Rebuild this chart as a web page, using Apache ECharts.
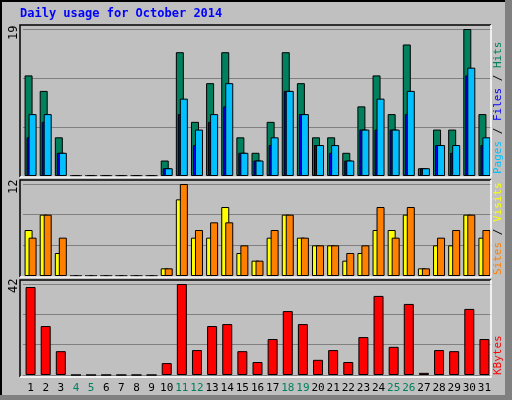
<!DOCTYPE html>
<html><head><meta charset="utf-8">
<script src="https://cdn.jsdelivr.net/npm/echarts@6/dist/echarts.min.js"></script>
<style>html,body{margin:0;padding:0;background:#C0C0C0}#c{width:512px;height:400px}</style>
</head><body><div id="c"></div>
<script>
const days = Array.from({length:31},(_,i)=>String(i+1));
const weekend = ['4','5','11','12','18','19','25','26'];
const hits  = [13,11,5,0,0,0,0,0,0,2,16,7,12,16,5,3,7,16,12,5,5,3,9,13,8,17,1,6,6,19,8];
const pages = [5,7,3,0,0,0,0,0,0,1,8,4,7,9,3,2,4,11,8,4,3,2,6,6,6,8,1,4,3,13,4];
const files = [8,8,3,0,0,0,0,0,0,1,10,6,8,12,3,2,5,11,8,4,4,2,6,10,6,11,1,4,4,14,5];
const sites = [6,8,3,0,0,0,0,0,0,1,10,5,5,9,3,2,5,8,5,4,4,2,3,6,6,8,1,4,4,8,5];
const visits= [5,8,5,0,0,0,0,0,0,1,12,6,7,7,4,2,6,8,5,4,4,3,4,9,5,9,1,5,6,8,6];
const kbytes= [40.6,22.6,11,0,0,0,0,0,0,5.5,42,11.5,22.6,23.5,11,6,16.6,29.5,23.5,7,11.5,6,17.5,36.5,13,32.8,1,11.5,11,30.5,16.6];
const maxTop=19, maxMid=12, maxBot=42;

const mono='DejaVu Sans Mono';
const L=23, R=20;
const grids=[{left:L,right:R,top:29,height:147},{left:L,right:R,top:184,height:92},{left:L,right:R,top:284,height:91}];
function xAx(i,show){return {type:'category',gridIndex:i,data:days,axisTick:{show:false},axisLine:{show:false},
  axisLabel:{show:show,interval:0,margin:8,fontFamily:mono,fontSize:11,color:'#000',
    formatter:v=>weekend.includes(v)?'{w|'+v+'}':v,rich:{w:{color:'#00805C',fontFamily:mono,fontSize:11}}}};}
function yAx(i,m){return {type:'value',gridIndex:i,min:0,max:m,interval:m/3,axisLabel:{show:false},axisLine:{show:false},axisTick:{show:false},
  splitLine:{lineStyle:{color:'#808080',width:1}}};}
const bs={borderColor:'#000',borderWidth:1};
function bar(name,d,i,color,w,gap,z){return {name,type:'bar',xAxisIndex:i,yAxisIndex:i,data:d,barWidth:w,barGap:gap,z:z,
  itemStyle:Object.assign({color},bs),animation:false};}
const panels=[[20,25,471,152],[20,180,471,97],[20,280,471,97]];
const gr=[];
panels.forEach(p=>{
  gr.push({type:'polyline',shape:{points:[[p[0],p[1]+p[3]],[p[0],p[1]],[p[0]+p[2],p[1]]]},style:{stroke:'#000',lineWidth:1.5,fill:null},z:10});
  gr.push({type:'polyline',shape:{points:[[p[0]+p[2],p[1]],[p[0]+p[2],p[1]+p[3]],[p[0],p[1]+p[3]]]},style:{stroke:'#fff',lineWidth:1.5,fill:null},z:10});
});
gr.push({type:'rect',shape:{x:1,y:1,width:505,height:397},style:{fill:null,stroke:'#000',lineWidth:2},z:0});
gr.push({type:'rect',shape:{x:505,y:0,width:7,height:400},style:{fill:'#808080'},z:0});
gr.push({type:'rect',shape:{x:0,y:395,width:512,height:5},style:{fill:'#808080'},z:0});
gr.push({type:'text',left:20,top:8,style:{text:'Daily usage for October 2014',fontFamily:mono,fontWeight:'bold',fontSize:12,fill:'#0000FF'}});
gr.push({type:'text',x:8,y:40,rotation:Math.PI/2,style:{text:String(maxTop),fontFamily:mono,fontSize:12,fill:'#000'}});
gr.push({type:'text',x:8,y:194,rotation:Math.PI/2,style:{text:String(maxMid),fontFamily:mono,fontSize:12,fill:'#000'}});
gr.push({type:'text',x:8,y:293,rotation:Math.PI/2,style:{text:String(maxBot),fontFamily:mono,fontSize:12,fill:'#000'}});
const rs=c=>({fill:c,fontFamily:mono,fontSize:11});
gr.push({type:'text',x:493,y:174,rotation:Math.PI/2,style:{text:'{p|Pages}{b| / }{f|Files}{b| / }{h|Hits}',rich:{p:rs('#00C0FF'),b:rs('#000'),f:rs('#0000FF'),h:rs('#00805C')},fontFamily:mono,fontSize:11}});
gr.push({type:'text',x:493,y:275,rotation:Math.PI/2,style:{text:'{s|Sites}{b| / }{v|Visits}',rich:{s:rs('#FF8000'),b:rs('#000'),v:rs('#FFFF00')},fontFamily:mono,fontSize:11}});
gr.push({type:'text',x:493,y:375,rotation:Math.PI/2,style:{text:'KBytes',fontFamily:mono,fontSize:11,fill:'#FF0000'}});
const chart=echarts.init(document.getElementById('c'),null,{renderer:'canvas'});
chart.setOption({animation:false,backgroundColor:'#C0C0C0',grid:grids,
  xAxis:[xAx(0,false),xAx(1,false),xAx(2,true)],
  yAxis:[yAx(0,maxTop),yAx(1,maxMid),yAx(2,maxBot)],
  series:[bar('Hits',hits,0,'#00805C',8,'-75%',2),bar('Pages',pages,0,'#0000FF',8,'-75%',3),bar('Files',files,0,'#00C0FF',8,'-75%',4),
    bar('Sites',sites,1,'#FFFF00',8,'-50%',2),bar('Visits',visits,1,'#FF8000',8,'-50%',3),
    bar('KBytes',kbytes,2,'#FF0000',10,'0%',2)],
  graphic:gr});
</script></body></html>
